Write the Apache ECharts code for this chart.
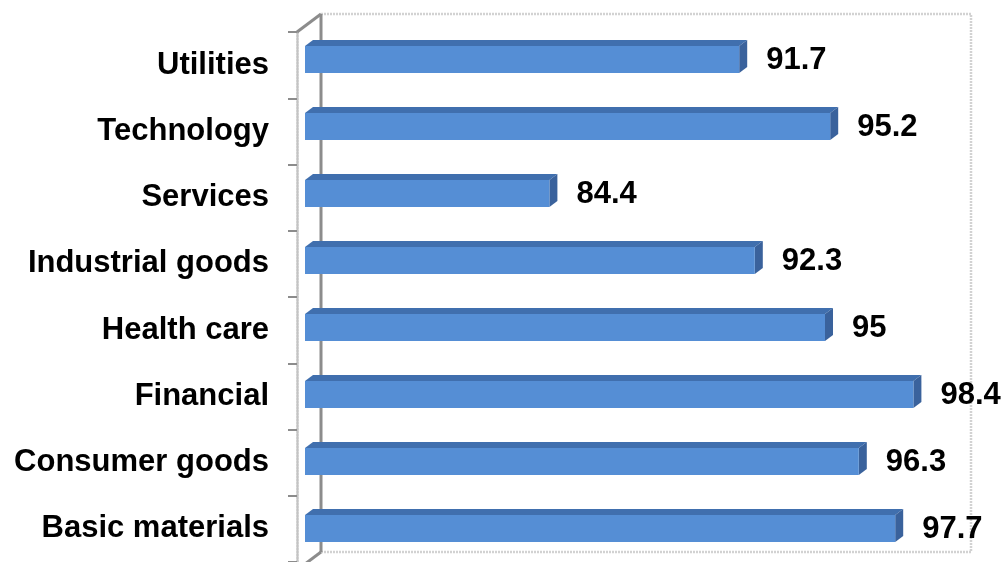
<!DOCTYPE html>
<html>
<head>
<meta charset="utf-8">
<script src="https://cdn.jsdelivr.net/npm/echarts@6/dist/echarts.min.js"></script>
<style>
  html, body { margin: 0; padding: 0; background: #fff; }
  #chart { width: 1008px; height: 562px; }
</style>
</head>
<body>
<div id="chart"></div>
<script>
// Sector scores, listed bottom to top on the category axis
const categories = ['Basic materials', 'Consumer goods', 'Financial', 'Health care',
                    'Industrial goods', 'Services', 'Technology', 'Utilities'];
const values = [97.7, 96.3, 98.4, 95, 92.3, 84.4, 95.2, 91.7];
const axisMin = 75;
const axisMax = 100;

// One depth step of the pseudo 3-D box (front plane -> bar plane -> back wall)
const DX = 8, DY = -6;
const PLOT_W = 650, PLOT_H = 538;
const BAR_LEFT = 305, BAR_TOP = 26;
const BAR_H = 27;
const LABEL_GAP = 19;

const FONT = 'bold 31px "Liberation Sans", Arial, sans-serif';
const C_FRONT = '#558ed5', C_TOP = '#406fae', C_SIDE = '#3a629c';
const C_WALL = '#d2d2d2', C_EDGE = '#8c8c8c';

const chart = echarts.init(document.getElementById('chart'), null, { renderer: 'canvas' });

function plane(steps) {
  return { left: BAR_LEFT + steps * DX, top: BAR_TOP + steps * DY, width: PLOT_W, height: PLOT_H };
}

function valueAxis(gridIndex) {
  return { type: 'value', gridIndex, min: axisMin, max: axisMax, show: false };
}
function catAxis(gridIndex, show) {
  return { type: 'category', gridIndex, data: categories, show };
}

// 3-D bar: front face, top face and right side face, plus the value label
function renderBar(params, api) {
  const v = api.value(0);
  const end = api.coord([v, api.value(1)]);
  const start = api.coord([axisMin, api.value(1)]);
  const x0 = start[0], x1 = end[0];
  const yT = end[1] - BAR_H / 2, yB = end[1] + BAR_H / 2;
  return {
    type: 'group',
    children: [
      { type: 'polygon', shape: { points: [[x0, yT], [x1, yT], [x1 + DX, yT + DY], [x0 + DX, yT + DY]] },
        style: { fill: C_TOP } },
      { type: 'polygon', shape: { points: [[x1, yT], [x1 + DX, yT + DY], [x1 + DX, yB + DY], [x1, yB]] },
        style: { fill: C_SIDE } },
      { type: 'rect', shape: { x: x0, y: yT, width: x1 - x0, height: BAR_H },
        style: { fill: C_FRONT } },
      { type: 'text', style: { text: String(v), x: x1 + DX + LABEL_GAP, y: end[1] + 1, font: FONT,
        fill: '#000', align: 'left', verticalAlign: 'middle' } }
    ]
  };
}

// Back wall outline and the side-wall edges joining it to the front axis
function renderFrame(params, api) {
  const band = api.size([0, 1])[1];
  const bl = api.coord([axisMin, 0]);
  const tr = api.coord([axisMax, categories.length - 1]);
  const left = bl[0], right = tr[0];
  const bottom = bl[1] + band / 2, top = tr[1] - band / 2;
  const back = 3; // steps from the front plane to the back wall
  const dotted = { stroke: C_WALL, lineWidth: 2.5, lineDash: [2, 1], fill: null };
  const solid = { stroke: C_EDGE, lineWidth: 3, fill: null };
  return {
    type: 'group',
    children: [
      { type: 'polyline', shape: { points: [[left, top], [right, top], [right, bottom], [left, bottom]] },
        style: dotted },
      { type: 'line', shape: { x1: left, y1: top, x2: left, y2: bottom }, style: solid },
      { type: 'line', shape: { x1: left, y1: top, x2: left - back * DX, y2: top - back * DY }, style: solid },
      { type: 'line', shape: { x1: left, y1: bottom, x2: left - back * DX, y2: bottom - back * DY }, style: solid }
    ]
  };
}

chart.setOption({
  animation: false,
  backgroundColor: '#fff',
  grid: [plane(-1), plane(0), plane(2)],
  xAxis: [valueAxis(0), valueAxis(1), valueAxis(2)],
  yAxis: [
    {
      type: 'category', gridIndex: 0, data: categories,
      axisLine: { show: true, lineStyle: { color: '#c4c4c4', width: 2.5, type: [2, 1] } },
      axisTick: { show: true, length: 9, lineStyle: { color: C_EDGE, width: 2 } },
      axisLabel: { margin: 28, color: '#000', fontSize: 31, fontWeight: 'bold',
                   fontFamily: '"Liberation Sans", Arial, sans-serif' },
      splitLine: { show: false }
    },
    catAxis(1, false),
    catAxis(2, false)
  ],
  series: [
    {
      type: 'custom', xAxisIndex: 2, yAxisIndex: 2, z: 1, silent: true,
      renderItem: renderFrame, data: [[axisMin, 0]]
    },
    {
      type: 'custom', xAxisIndex: 1, yAxisIndex: 1, z: 2,
      renderItem: renderBar,
      encode: { x: 0, y: 1 },
      data: values.map((v, i) => [v, i])
    }
  ]
});
</script>
</body>
</html>
